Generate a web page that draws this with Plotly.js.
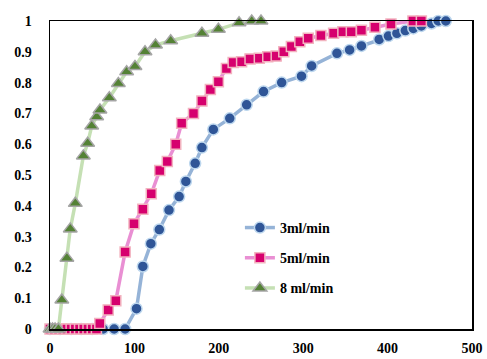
<!DOCTYPE html>
<html>
<head>
<meta charset="utf-8">
<script src="https://cdn.plot.ly/plotly-3.0.1.min.js"></script>
<style>html,body{margin:0;padding:0;background:#fff;}#chart{width:487px;height:359px;}</style>
</head>
<body>
<div id="chart"></div>
<script>
var seriesNames = ["3ml/min", "5ml/min", "8 ml/min"];

var x3 = [0, 12, 25, 37, 50, 63, 76, 89, 102.5, 110, 119.5, 129.5, 141, 153, 161, 172, 180, 193.5, 213, 233, 253, 274.5, 298, 310, 340, 355, 369, 390, 401, 411, 421, 430.5, 440, 452, 460, 469];
var y3 = [0, 0, 0, 0, 0, 0, 0, 0, 0.066, 0.203, 0.277, 0.323, 0.386, 0.43, 0.479, 0.538, 0.589, 0.648, 0.684, 0.728, 0.771, 0.80, 0.821, 0.854, 0.895, 0.906, 0.919, 0.94, 0.951, 0.96, 0.969, 0.976, 0.984, 0.992, 1.0, 1.0];

var x5 = [0, 5, 10, 15, 20, 25, 30, 35, 40, 45, 50, 55, 59, 69, 78, 89, 99.5, 110, 120, 130, 139, 149, 156, 170, 180, 190, 199.5, 209, 217, 227, 237, 248, 258, 268, 277, 286, 296, 306, 321, 336, 347, 357, 369, 385, 404, 430, 440];
var y5 = [0, 0, 0, 0, 0, 0, 0, 0, 0, 0, 0, 0, 0.018, 0.062, 0.092, 0.25, 0.342, 0.389, 0.439, 0.515, 0.544, 0.60, 0.668, 0.70, 0.74, 0.778, 0.803, 0.846, 0.865, 0.868, 0.877, 0.879, 0.884, 0.886, 0.90, 0.917, 0.933, 0.944, 0.953, 0.96, 0.965, 0.965, 0.97, 0.98, 0.99, 1.0, 1.0];

var x8 = [0, 3, 6, 10, 14, 20, 24, 30, 39.5, 44.6, 49.4, 55.3, 59.2, 70.3, 81, 90.8, 100.7, 112.6, 125, 143, 180, 199.5, 224, 239, 250];
var y8 = [0, 0, 0, 0, 0.094, 0.23, 0.325, 0.408, 0.562, 0.603, 0.659, 0.689, 0.711, 0.751, 0.797, 0.835, 0.852, 0.90, 0.922, 0.936, 0.96, 0.973, 0.994, 1.0, 1.0];

var xTicks = [0, 100, 200, 300, 400, 500];
var yTicks = [0, 0.1, 0.2, 0.3, 0.4, 0.5, 0.6, 0.7, 0.8, 0.9, 1];

var traces = [
  {x: x3, y: y3, name: seriesNames[0], mode: "lines+markers", legendgroup: "a", cliponaxis: false,
   line: {color: "#95b3d7", width: 3.5},
   marker: {symbol: "circle", size: 11, color: "#2f5597", line: {color: "#bdd7ee", width: 1.5}}},
  {x: x5, y: y5, name: seriesNames[1], mode: "lines+markers", legendgroup: "b", cliponaxis: false,
   line: {color: "#e98fd3", width: 3.5},
   marker: {symbol: "square", size: 10, color: "#d6006e", line: {color: "#f2b3bf", width: 1.5}}},
  {x: x8, y: y8, name: seriesNames[2], mode: "lines+markers", legendgroup: "c", cliponaxis: false,
   line: {color: "#c5e0b4", width: 3.5},
   marker: {symbol: "triangle-up", size: 12, color: "#548235", line: {color: "#a5a5a5", width: 1.5}}}
];

var tickFont = {family: "'Liberation Serif', 'Times New Roman', serif", size: 14, color: "#000", weight: "bold"};

var layout = {
  width: 487, height: 359,
  margin: {l: 50, r: 15, t: 21, b: 30},
  paper_bgcolor: "#fff", plot_bgcolor: "#fff",
  showlegend: true,
  legend: {x: 0.45, y: 0.38, xanchor: "left", yanchor: "top", bgcolor: "rgba(0,0,0,0)",
           font: {family: "'Liberation Serif', 'Times New Roman', serif", size: 14, color: "#000", weight: "bold"},
           tracegroupgap: 9, traceorder: "grouped"},
  xaxis: {range: [0, 500], tickvals: xTicks, ticktext: xTicks.map(String), showgrid: false, zeroline: false,
          showline: true, mirror: true, linecolor: "#000", linewidth: 1.5, ticks: "",
          tickfont: tickFont, ticklabelstandoff: 6},
  yaxis: {range: [0, 1], tickvals: yTicks, ticktext: yTicks.map(String), showgrid: false, zeroline: false,
          showline: true, mirror: true, linecolor: "#000", linewidth: 1.5, ticks: "",
          tickfont: tickFont, ticklabelstandoff: 14}
};

Plotly.newPlot("chart", traces, layout, {displayModeBar: false, staticPlot: true});
</script>
</body>
</html>
